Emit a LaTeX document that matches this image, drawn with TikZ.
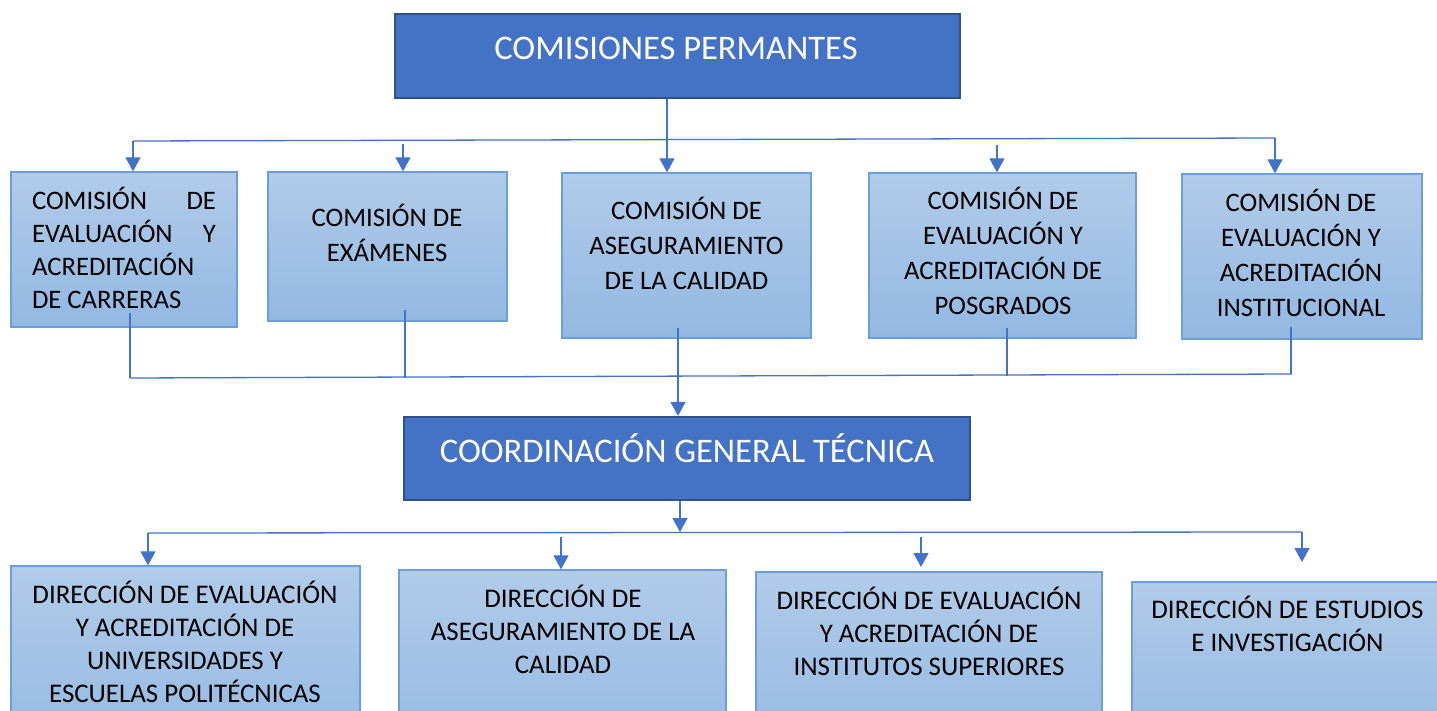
\documentclass[tikz,border=0pt]{standalone}
\usepackage{fontspec}
\setmainfont{Carlito}
\usetikzlibrary{arrows.meta,calc}
\definecolor{dkblue}{HTML}{4472C4}
\definecolor{dkedge}{HTML}{2F528F}
\definecolor{ltedge}{HTML}{6A9FD8}
\definecolor{lttop}{HTML}{B2CBE9}
\definecolor{ltbot}{HTML}{93B8E3}
\definecolor{conn}{HTML}{4472C4}
\begin{document}
\begin{tikzpicture}[x=1pt,y=-1pt,
  headbox/.style={draw=dkedge, line width=2.2pt, fill=dkblue, inner sep=0pt, rectangle},
  subbox/.style={draw=ltedge, line width=1.3pt, top color=lttop, bottom color=ltbot, inner sep=0pt, rectangle},
  headtxt/.style={text=white, font=\fontsize{34.5}{40}\selectfont, inner sep=0pt},
  boxtxt/.style={font=\fontsize{26.7}{35}\selectfont, align=center, inner sep=0pt,
    execute at begin node=\strut, execute at end node=\strut},
  dirtxt/.style={font=\fontsize{26.9}{33}\selectfont, align=center, inner sep=0pt,
    execute at begin node=\strut, execute at end node=\strut},
  link/.style={draw=conn, line width=1.3pt},
  arr/.style={link, -{Triangle[width=15pt,length=14pt]}},
]
\clip (0,0) rectangle (1437,711);
\fill[white] (0,0) rectangle (1437,711);

% boxes
\node[headbox, minimum width=565pt, minimum height=84pt] (title) at (677.5,56) {};
\node[headtxt] (titlet) at (676,48.5) {COMISIONES PERMANTES};

\node[subbox, minimum width=226pt, minimum height=155pt] (b1) at (124,249.5) {};
\node[subbox, minimum width=239pt, minimum height=149pt] (b2) at (387.5,246.5) {};
\node[subbox, minimum width=249pt, minimum height=165pt] (b3) at (686.5,255.5) {};
\node[subbox, minimum width=267pt, minimum height=165pt] (b4) at (1002.5,255.5) {};
\node[subbox, minimum width=240pt, minimum height=165pt] (b5) at (1302,256.5) {};

\node[font=\fontsize{26.7}{33}\selectfont, align=left, inner sep=0pt,
  execute at begin node=\strut, execute at end node=\strut] (t1) at (124,252.75)
  {\makebox[184pt][s]{COMISIÓN\hfill DE}\\\makebox[184pt][s]{EVALUACIÓN\hfill Y}\\\makebox[184pt][l]{ACREDITACIÓN}\\\makebox[184pt][l]{DE CARRERAS}};
\node[boxtxt] (t2) at (387,238) {COMISIÓN DE\\EXÁMENES};
\node[boxtxt] (t3) at (686.5,248.5) {COMISIÓN DE\\ASEGURAMIENTO\\DE LA CALIDAD};
\node[boxtxt] (t4) at (1003,256) {COMISIÓN DE\\EVALUACIÓN Y\\ACREDITACIÓN DE\\POSGRADOS};
\node[boxtxt] (t5) at (1301,258) {COMISIÓN DE\\EVALUACIÓN Y\\ACREDITACIÓN\\INSTITUCIONAL};

\node[headbox, minimum width=566pt, minimum height=83pt] (coord) at (687,458.5) {};
\node[headtxt] (coordt) at (687,448) {COORDINACIÓN GENERAL TÉCNICA};

\node[subbox, minimum width=349pt, minimum height=194pt] (d1) at (185.5,663) {};
\node[subbox, minimum width=327pt, minimum height=190pt] (d2) at (562.5,665) {};
\node[subbox, minimum width=346pt, minimum height=188pt] (d3) at (929,666) {};
\node[subbox, minimum width=318pt, minimum height=178pt] (d4) at (1291,671) {};

\node[dirtxt] (u1) at (185,646.5) {DIRECCIÓN DE EVALUACIÓN\\Y ACREDITACIÓN DE\\UNIVERSIDADES Y\\ESCUELAS POLITÉCNICAS};
\node[dirtxt] (u2) at (563,634) {DIRECCIÓN DE\\ASEGURAMIENTO DE LA\\CALIDAD};
\node[dirtxt] (u3) at (929,636) {DIRECCIÓN DE EVALUACIÓN\\Y ACREDITACIÓN DE\\INSTITUTOS SUPERIORES};
\node[dirtxt] (u4) at (1287.5,629) {DIRECCIÓN DE ESTUDIOS\\E INVESTIGACIÓN};

% upper bus
\coordinate (tbL) at (133,141);
\coordinate (tbR) at (1275,138);
\coordinate (tbM) at (667,140);
\coordinate (a2s) at (403,144);
\coordinate (a4s) at (997,145);
\draw[link] (tbL) -- (tbR);
\draw[arr] (tbM |- title.south) -- (tbM |- b3.north);
\draw[arr] (tbL) -- (tbL |- b1.north);
\draw[arr] (a2s) -- (a2s |- b2.north);
\draw[arr] (a4s) -- (a4s |- b4.north);
\draw[arr] (tbR) -- (tbR |- b5.north);

% lower bus of commissions
\coordinate (bbL) at (130,378);
\coordinate (bbR) at (1292,374);
\coordinate (v1) at (130,313);
\coordinate (v2) at (405,310);
\coordinate (v2e) at (405,377.5);
\coordinate (v4) at (1007,328);
\coordinate (v4e) at (1007,376);
\coordinate (v5) at (1291,327);
\coordinate (v3) at (678,328);
\draw[link] (bbL) -- (bbR);
\draw[link] (v1) -- (bbL);
\draw[link] (v2) -- (v2e);
\draw[link] (v4) -- (v4e);
\draw[link] (v5) -- (v5 |- bbR);
\draw[arr] (v3) -- (v3 |- coord.north);

% directions bus
\coordinate (lbL) at (148,533);
\coordinate (lbR) at (1302,532);
\coordinate (lm) at (680,532);
\coordinate (a6s) at (561,537);
\coordinate (a7s) at (921,537);
\coordinate (a7e) at (921,567);
\coordinate (a8e) at (1302,562);
\draw[link] (lbL) -- (lbR);
\draw[arr] (lm |- coord.south) -- (lm);
\draw[arr] (lbL) -- (lbL |- d1.north);
\draw[arr] (a6s) -- (a6s |- d2.north);
\draw[arr] (a7s) -- (a7e);
\draw[arr] (lbR) -- (a8e);
\end{tikzpicture}
\end{document}
